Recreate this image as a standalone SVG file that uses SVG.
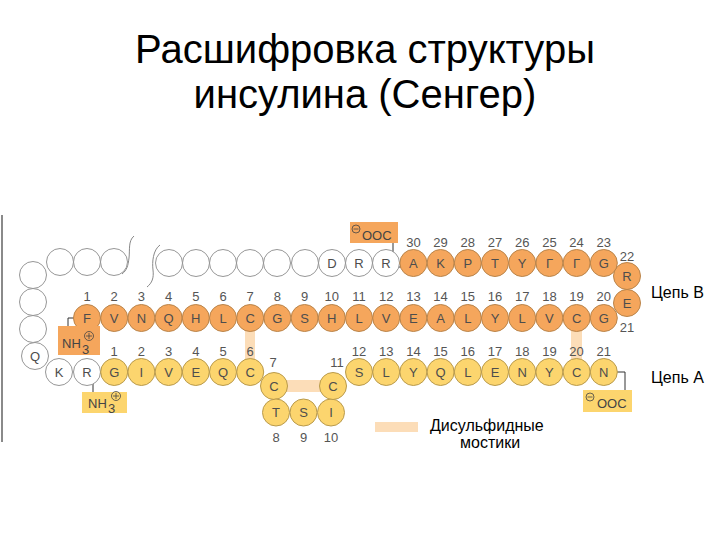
<svg xmlns="http://www.w3.org/2000/svg" width="720" height="540" viewBox="0 0 720 540">
<style>
.title{font-family:"Liberation Sans",Arial,sans-serif;font-size:40px;fill:#000;text-anchor:middle}
.cap{font-family:"Liberation Sans",Arial,sans-serif;font-size:16px;fill:#000}
.b circle{fill:#F5A65C;stroke:#B9844A;stroke-width:1}
.a circle{fill:#FCD56E;stroke:#B99A4C;stroke-width:1}
.g circle{fill:#fff;stroke:#8a8a8a;stroke-width:0.9}
.res text{font-family:"Liberation Sans",Arial,sans-serif;font-size:13px;fill:#4d4d4d;text-anchor:middle;dominant-baseline:central}
.num{font-family:"Liberation Sans",Arial,sans-serif;font-size:13px;fill:#555;text-anchor:middle}
.lab{font-family:"Liberation Sans",Arial,sans-serif;font-size:13px;fill:#444}
.ss{fill:#FCDDB8}
.ln{fill:none;stroke:#333;stroke-width:1}
.brk{fill:none;stroke:#888;stroke-width:1}
.sym{fill:none;stroke:#444;stroke-width:0.8}
</style>

<text class="title" x="365" y="63">Расшифровка структуры</text>
<text class="title" x="365" y="108">инсулина (Сенгер)</text>

<line x1="2" y1="215" x2="2" y2="442" stroke="#8a8a8a" stroke-width="2"/>

<!-- disulfide bridges -->
<g id="bridges">
<rect class="ss" x="245" y="325" width="10" height="40"/>
<rect class="ss" x="283" y="380" width="42" height="12"/>
<rect class="ss" x="571" y="325" width="11" height="40"/>
</g>

<!-- connectors -->
<g id="connectors">
<path class="ln" d="M393,243 V267 H401"/>
<path class="ln" d="M68,326 V318 H74"/>
<path class="ln" d="M93,392 V373 H101"/>
<path class="ln" d="M617,372 H625 V391"/>
<path class="brk" d="M134,236 C128,241 130,250 129,258 C128,266 127,270 122,274"/>
<path class="brk" d="M160,245 C153,250 152,262 153,270 C154,278 152,283 147,287"/>
</g>

<!-- gray (removed) residues -->
<g class="res g">
<g id="g1"><circle cx="60" cy="262" r="13.5"/></g>
<g id="g2"><circle cx="87" cy="262" r="13.5"/></g>
<g id="g3"><circle cx="114" cy="262" r="13.5"/></g>
<g id="g4"><circle cx="169" cy="263" r="13.5"/></g>
<g id="g5"><circle cx="196" cy="263" r="13.5"/></g>
<g id="g6"><circle cx="223" cy="263" r="13.5"/></g>
<g id="g7"><circle cx="250" cy="263" r="13.5"/></g>
<g id="g8"><circle cx="277" cy="263" r="13.5"/></g>
<g id="g9"><circle cx="305" cy="263" r="13.5"/></g>
<g id="gD"><circle cx="332" cy="263" r="13.5"/><text x="332" y="263">D</text></g>
<g id="gR1"><circle cx="359" cy="263" r="13.5"/><text x="359" y="263">R</text></g>
<g id="gR2"><circle cx="386" cy="263" r="13.5"/><text x="386" y="263">R</text></g>
<g id="gL1"><circle cx="33" cy="275" r="13.5"/></g>
<g id="gL2"><circle cx="33" cy="302" r="13.5"/></g>
<g id="gL3"><circle cx="33" cy="329" r="13.5"/></g>
<g id="gQ"><circle cx="35" cy="356" r="13.5"/><text x="35" y="356">Q</text></g>
<g id="gK"><circle cx="59" cy="372" r="13.5"/><text x="59" y="372">K</text></g>
<g id="gR3"><circle cx="87" cy="372" r="13.5"/><text x="87" y="372">R</text></g>
</g>

<!-- B chain -->
<g class="res b">
<g id="B1"><circle cx="87" cy="318" r="13.5"/><text x="87" y="318">F</text></g>
<g id="B2"><circle cx="114.2" cy="318" r="13.5"/><text x="114.2" y="318">V</text></g>
<g id="B3"><circle cx="141.4" cy="318" r="13.5"/><text x="141.4" y="318">N</text></g>
<g id="B4"><circle cx="168.6" cy="318" r="13.5"/><text x="168.6" y="318">Q</text></g>
<g id="B5"><circle cx="195.8" cy="318" r="13.5"/><text x="195.8" y="318">H</text></g>
<g id="B6"><circle cx="223" cy="318" r="13.5"/><text x="223" y="318">L</text></g>
<g id="B7"><circle cx="250.2" cy="318" r="13.5"/><text x="250.2" y="318">C</text></g>
<g id="B8"><circle cx="277.4" cy="318" r="13.5"/><text x="277.4" y="318">G</text></g>
<g id="B9"><circle cx="304.6" cy="318" r="13.5"/><text x="304.6" y="318">S</text></g>
<g id="B10"><circle cx="331.8" cy="318" r="13.5"/><text x="331.8" y="318">H</text></g>
<g id="B11"><circle cx="359" cy="318" r="13.5"/><text x="359" y="318">L</text></g>
<g id="B12"><circle cx="386.2" cy="318" r="13.5"/><text x="386.2" y="318">V</text></g>
<g id="B13"><circle cx="413.4" cy="318" r="13.5"/><text x="413.4" y="318">E</text></g>
<g id="B14"><circle cx="440.6" cy="318" r="13.5"/><text x="440.6" y="318">A</text></g>
<g id="B15"><circle cx="467.8" cy="318" r="13.5"/><text x="467.8" y="318">L</text></g>
<g id="B16"><circle cx="495" cy="318" r="13.5"/><text x="495" y="318">Y</text></g>
<g id="B17"><circle cx="522.2" cy="318" r="13.5"/><text x="522.2" y="318">L</text></g>
<g id="B18"><circle cx="549.4" cy="318" r="13.5"/><text x="549.4" y="318">V</text></g>
<g id="B19"><circle cx="576.6" cy="318" r="13.5"/><text x="576.6" y="318">C</text></g>
<g id="B20"><circle cx="603.8" cy="318" r="13.5"/><text x="603.8" y="318">G</text></g>
<g id="B21"><circle cx="627" cy="303" r="13.5"/><text x="627" y="303">E</text></g>
<g id="B22"><circle cx="627" cy="276" r="13.5"/><text x="627" y="276">R</text></g>
<g id="B23"><circle cx="603.8" cy="263" r="13.5"/><text x="603.8" y="263">G</text></g>
<g id="B24"><circle cx="576.6" cy="263" r="13.5"/><text x="576.6" y="263">Г</text></g>
<g id="B25"><circle cx="549.4" cy="263" r="13.5"/><text x="549.4" y="263">Г</text></g>
<g id="B26"><circle cx="522.2" cy="263" r="13.5"/><text x="522.2" y="263">Y</text></g>
<g id="B27"><circle cx="495" cy="263" r="13.5"/><text x="495" y="263">T</text></g>
<g id="B28"><circle cx="467.8" cy="263" r="13.5"/><text x="467.8" y="263">P</text></g>
<g id="B29"><circle cx="440.6" cy="263" r="13.5"/><text x="440.6" y="263">K</text></g>
<g id="B30"><circle cx="413.4" cy="263" r="13.5"/><text x="413.4" y="263">A</text></g>
</g>

<!-- A chain -->
<g class="res a">
<g id="A1"><circle cx="114.2" cy="372" r="13.5"/><text x="114.2" y="372">G</text></g>
<g id="A2"><circle cx="141.4" cy="372" r="13.5"/><text x="141.4" y="372">I</text></g>
<g id="A3"><circle cx="168.6" cy="372" r="13.5"/><text x="168.6" y="372">V</text></g>
<g id="A4"><circle cx="195.8" cy="372" r="13.5"/><text x="195.8" y="372">E</text></g>
<g id="A5"><circle cx="223" cy="372" r="13.5"/><text x="223" y="372">Q</text></g>
<g id="A6"><circle cx="250.2" cy="372" r="13.5"/><text x="250.2" y="372">C</text></g>
<g id="A7"><circle cx="274" cy="386" r="13.5"/><text x="274" y="386">C</text></g>
<g id="A8"><circle cx="276" cy="412.5" r="13.5"/><text x="276" y="412.5">T</text></g>
<g id="A9"><circle cx="303.5" cy="412.5" r="13.5"/><text x="303.5" y="412.5">S</text></g>
<g id="A10"><circle cx="331" cy="412.5" r="13.5"/><text x="331" y="412.5">I</text></g>
<g id="A11"><circle cx="333" cy="386" r="13.5"/><text x="333" y="386">C</text></g>
<g id="A12"><circle cx="359" cy="372" r="13.5"/><text x="359" y="372">S</text></g>
<g id="A13"><circle cx="386.2" cy="372" r="13.5"/><text x="386.2" y="372">L</text></g>
<g id="A14"><circle cx="413.4" cy="372" r="13.5"/><text x="413.4" y="372">Y</text></g>
<g id="A15"><circle cx="440.6" cy="372" r="13.5"/><text x="440.6" y="372">Q</text></g>
<g id="A16"><circle cx="467.8" cy="372" r="13.5"/><text x="467.8" y="372">L</text></g>
<g id="A17"><circle cx="495" cy="372" r="13.5"/><text x="495" y="372">E</text></g>
<g id="A18"><circle cx="522.2" cy="372" r="13.5"/><text x="522.2" y="372">N</text></g>
<g id="A19"><circle cx="549.4" cy="372" r="13.5"/><text x="549.4" y="372">Y</text></g>
<g id="A20"><circle cx="576.6" cy="372" r="13.5"/><text x="576.6" y="372">C</text></g>
<g id="A21"><circle cx="603.8" cy="372" r="13.5"/><text x="603.8" y="372">N</text></g>
</g>

<!-- numbers -->
<g id="numbers">
<text class="num" x="87" y="301">1</text>
<text class="num" x="114.2" y="301">2</text>
<text class="num" x="141.4" y="301">3</text>
<text class="num" x="168.6" y="301">4</text>
<text class="num" x="195.8" y="301">5</text>
<text class="num" x="223" y="301">6</text>
<text class="num" x="250.2" y="301">7</text>
<text class="num" x="277.4" y="301">8</text>
<text class="num" x="304.6" y="301">9</text>
<text class="num" x="331.8" y="301">10</text>
<text class="num" x="359" y="301">11</text>
<text class="num" x="386.2" y="301">12</text>
<text class="num" x="413.4" y="301">13</text>
<text class="num" x="440.6" y="301">14</text>
<text class="num" x="467.8" y="301">15</text>
<text class="num" x="495" y="301">16</text>
<text class="num" x="522.2" y="301">17</text>
<text class="num" x="549.4" y="301">18</text>
<text class="num" x="576.6" y="301">19</text>
<text class="num" x="603.8" y="301">20</text>
<text class="num" x="627" y="332">21</text>
<text class="num" x="627" y="261">22</text>
<text class="num" x="603.8" y="247">23</text>
<text class="num" x="576.6" y="247">24</text>
<text class="num" x="549.4" y="247">25</text>
<text class="num" x="522.2" y="247">26</text>
<text class="num" x="495" y="247">27</text>
<text class="num" x="467.8" y="247">28</text>
<text class="num" x="440.6" y="247">29</text>
<text class="num" x="413.4" y="247">30</text>
<text class="num" x="114.2" y="356">1</text>
<text class="num" x="141.4" y="356">2</text>
<text class="num" x="168.6" y="356">3</text>
<text class="num" x="195.8" y="356">4</text>
<text class="num" x="223" y="356">5</text>
<text class="num" x="250.2" y="356">6</text>
<text class="num" x="273" y="367">7</text>
<text class="num" x="337" y="367">11</text>
<text class="num" x="276" y="442">8</text>
<text class="num" x="303.5" y="442">9</text>
<text class="num" x="331" y="442">10</text>
<text class="num" x="359" y="356">12</text>
<text class="num" x="386.2" y="356">13</text>
<text class="num" x="413.4" y="356">14</text>
<text class="num" x="440.6" y="356">15</text>
<text class="num" x="467.8" y="356">16</text>
<text class="num" x="495" y="356">17</text>
<text class="num" x="522.2" y="356">18</text>
<text class="num" x="549.4" y="356">19</text>
<text class="num" x="576.6" y="356">20</text>
<text class="num" x="603.8" y="356">21</text>
</g>

<!-- terminal labels -->
<g id="cooh-B">
<rect x="350" y="222" width="48" height="21" fill="#F5A65C"/>
<circle class="sym" cx="356" cy="229" r="4"/><line class="sym" x1="353.5" y1="229" x2="358.5" y2="229"/>
<text class="lab" x="362" y="240">OOC</text>
</g>
<g id="nh3-B">
<rect x="58" y="326" width="42" height="29" fill="#F5A65C"/>
<text class="lab" x="62" y="348">NH</text><text class="lab" x="82" y="354" font-size="11">3</text>
<circle class="sym" cx="89" cy="336" r="4.5"/><path class="sym" d="M86,336 H92 M89,333 V339"/>
</g>
<g id="nh3-A">
<rect x="82" y="392" width="45" height="21" fill="#FCD56E"/>
<text class="lab" x="88" y="408">NH</text><text class="lab" x="108" y="413" font-size="11">3</text>
<circle class="sym" cx="116" cy="396" r="4.5"/><path class="sym" d="M113,396 H119 M116,393 V399"/>
</g>
<g id="cooh-A">
<rect x="583" y="390" width="49" height="22" fill="#FCD56E"/>
<circle class="sym" cx="590" cy="397" r="4"/><line class="sym" x1="587.5" y1="397" x2="592.5" y2="397"/>
<text class="lab" x="597" y="408">OOC</text>
</g>

<text class="cap" x="651" y="298">Цепь В</text>
<text class="cap" x="651" y="383">Цепь А</text>

<g id="legend">
<rect class="ss" x="375" y="422" width="43" height="10"/>
<text class="cap" x="430" y="431">Дисульфидные</text>
<text class="cap" x="460" y="448">мостики</text>
</g>
</svg>
